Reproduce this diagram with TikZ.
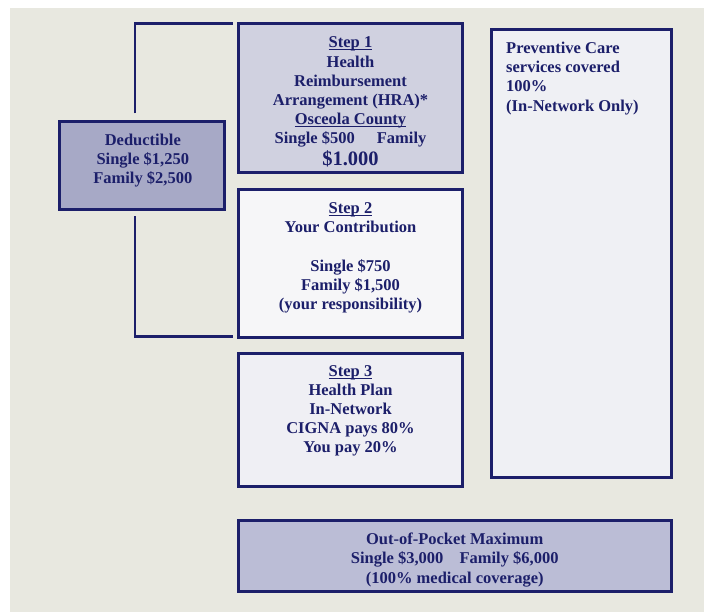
\documentclass[tikz,border=0pt]{standalone}
\usepackage{fontspec}
\setmainfont{Liberation Serif}
\usetikzlibrary{calc}
\definecolor{navy}{HTML}{1C1F6A}
\definecolor{bggray}{HTML}{E8E8E0}
\definecolor{sonefill}{HTML}{D0D1E0}
\definecolor{stwofill}{HTML}{F6F6F8}
\definecolor{sthreefill}{HTML}{EFEFF4}
\definecolor{prevfill}{HTML}{EFF0F4}
\definecolor{dedfill}{HTML}{A7A9C6}
\definecolor{oopfill}{HTML}{BBBDD6}
\newcommand\myul[1]{\setbox0\hbox{#1}\rlap{\rule[-2.3pt]{\wd0}{0.9pt}}\box0}
\begin{document}
\begin{tikzpicture}[x=1pt,y=-1pt,
  box/.style={draw=navy, line width=3pt, rectangle, inner sep=0pt, outer sep=0pt, anchor=north west},
  txt/.style={text=navy, font=\bfseries\fontsize{16.5}{19.1}\selectfont, inner sep=0pt, anchor=base},
  conn/.style={draw=navy, line width=2.8pt}]
\useasboundingbox (0,0) rectangle (704,612);
\fill[white] (0,0) rectangle (704,612);
\fill[bggray] (10,8) rectangle (704,612);
% boxes
\node[box, fill=sonefill, minimum width=224pt, minimum height=149pt] (s1) at (238.5,23.5) {};
\node[box, fill=stwofill, minimum width=224pt, minimum height=147.5pt] (s2) at (238.5,190) {};
\node[box, fill=sthreefill, minimum width=224pt, minimum height=133pt] (s3) at (238.5,353) {};
\node[box, fill=prevfill, minimum width=179.5pt, minimum height=448pt] (prev) at (491.5,29.5) {};
\node[box, fill=dedfill, minimum width=165pt, minimum height=88pt] (ded) at (59.5,121.5) {};
\node[box, fill=oopfill, minimum width=432.5pt, minimum height=70.5pt] (oop) at (238.5,520.5) {};
% texts
\node[txt] (s1t) at (350.5,48) {\begin{tabular}[t]{@{}c@{}}\myul{Step 1}\\Health\\Reimbursement\\Arrangement (HRA)*\\\myul{Osceola County}\\Single \$500\hspace{18pt} Family\\[1pt]{\fontsize{20.5}{22}\selectfont\$1.000}\end{tabular}};
\node[txt] (s2t) at (350.5,213.8) {\begin{tabular}[t]{@{}c@{}}\myul{Step 2}\\Your Contribution\\[19.1pt]Single \$750\\Family \$1,500\\(your responsibility)\end{tabular}};
\node[txt] (s3t) at (350.5,376.2) {\begin{tabular}[t]{@{}c@{}}\myul{Step 3}\\Health Plan\\In-Network\\CIGNA pays 80\%\\You pay 20\%\end{tabular}};
\node[txt, anchor=base west] (prevt) at (506,53.8) {\begin{tabular}[t]{@{}l@{}}Preventive Care\\services covered\\100\%\\(In-Network Only)\end{tabular}};
\node[txt] (dedt) at (142.8,145.2) {\begin{tabular}[t]{@{}c@{}}Deductible\\Single \$1,250\\Family \$2,500\end{tabular}};
\node[txt] (oopt) at (454.7,544.8) {\begin{tabular}[t]{@{}c@{}}Out-of-Pocket Maximum\\Single \$3,000\hspace{12pt} Family \$6,000\\(100\% medical coverage)\end{tabular}};
% bracket connectors
\draw[conn] ($(ded.north west)+(75.5,-8)$) |- ($(s1.north west)+(-5.5,0)$);
\draw[conn] ($(ded.south west)+(75.5,7)$) |- ($(s2.south west)+(-5.5,-1)$);
\end{tikzpicture}
\end{document}
